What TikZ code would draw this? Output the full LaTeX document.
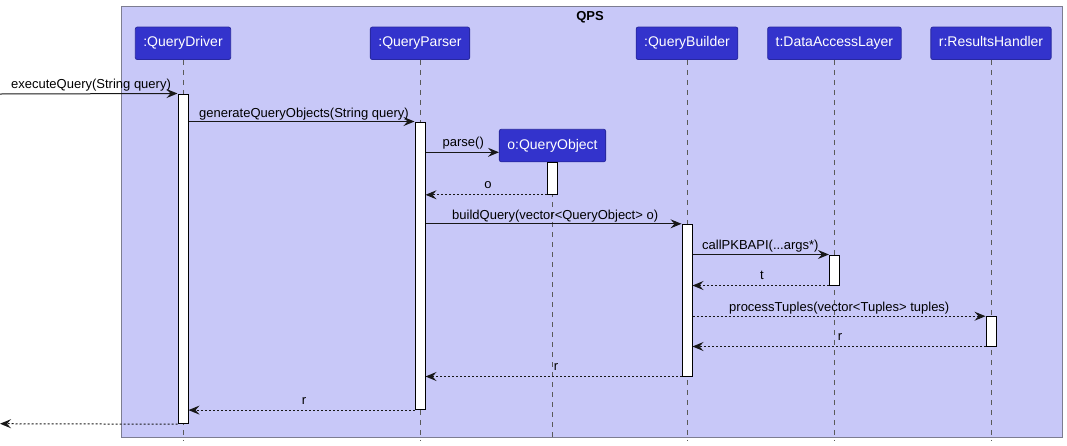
\documentclass[tikz,border=0pt]{standalone}
\usepackage{fontspec}
\setmainfont{Liberation Sans}
\usetikzlibrary{arrows.meta}
\definecolor{framebg}{RGB}{200,200,248}
\definecolor{frameline}{RGB}{125,125,145}
\definecolor{partbg}{RGB}{51,51,204}
\definecolor{partline}{RGB}{40,40,160}
\definecolor{lifeline}{RGB}{90,90,90}
\definecolor{msgline}{RGB}{24,24,24}
\tikzset{
  part/.style={draw=partline, fill=partbg, rounded corners=2pt, text=white,
    font=\fontsize{14}{16}\selectfont, inner xsep=8pt, inner ysep=0pt,
    minimum height=32.5pt, text height=10pt, text depth=3pt, line width=0.8pt},
  act/.style={draw=black, fill=white, line width=1pt, minimum width=10pt, inner sep=0pt},
  life/.style={draw=lifeline, line width=0.8pt, dash pattern=on 5pt off 5pt},
  msg/.style={draw=msgline, line width=1pt, -{Stealth[length=11pt,width=9pt,inset=4pt]}},
  ret/.style={msg, dash pattern=on 2pt off 2pt},
  lbl/.style={font=\fontsize{13}{15}\selectfont, inner sep=0pt, text=black},
}
\begin{document}
\begin{tikzpicture}[x=1pt,y=-1pt]
\useasboundingbox (0,0) rectangle (1067,445);
% frame
\node[draw=frameline, fill=framebg, line width=1pt, minimum width=940.5pt, minimum height=430.5pt, inner sep=0pt, anchor=north west] (frame) at (121,6) {};
\node[lbl, font=\fontsize{13}{15}\selectfont\bfseries, anchor=base] (qps) at (590,20) {QPS};
% participants
\node[part] (qd) at (183,43.3) {:QueryDriver};
\node[part] (qp) at (420,43.3) {:QueryParser};
\node[part] (qb) at (687,43.3) {:QueryBuilder};
\node[part] (dal) at (834.4,43.3) {t:DataAccessLayer};
\node[part] (rh) at (991,43.3) {r:ResultsHandler};
\node[part] (qo) at (552.5,145.5) {o:QueryObject};
% lifeline ends
\coordinate (qdE) at (183,441);
\coordinate (qpE) at (420,441);
\coordinate (qbE) at (687,441);
\coordinate (dalE) at (834.4,441);
\coordinate (rhE) at (991,441);
\coordinate (qoE) at (552.5,441);
\draw[life] (qd.south) -- (qdE);
\draw[life] (qp.south) -- (qpE);
\draw[life] (qb.south) -- (qbE);
\draw[life] (dal.south) -- (dalE);
\draw[life] (rh.south) -- (rhE);
\draw[life] (qo.south) -- (qoE);
% activations
\node[act, minimum height=329.7pt] (aD) at (183,258.85) {};
\node[act, minimum height=287.6pt] (aP) at (420,265.8) {};
\node[act, minimum height=32pt] (aO) at (552.5,178.3) {};
\node[act, minimum height=151.7pt] (aB) at (687,300.15) {};
\node[act, minimum height=30pt] (aL) at (834.4,270) {};
\node[act, minimum height=29.3pt] (aR) at (991,331.35) {};
% messages
\coordinate (m1) at (0,94);
\draw[msg] (m1) -- (aD.north west);
\node[lbl, anchor=base west] (l1) at (11,88.5) {executeQuery(String query)};

\coordinate (m2) at (aD.east |- aP.north);
\draw[msg] (m2) -- (aP.north west);
\node[lbl, anchor=base west] (l2) at (199,117) {generateQueryObjects(String query)};

\coordinate (m3s) at (aP.east |- 0,152.3);
\coordinate (m3e) at (qo.west |- 0,152.3);
\draw[msg] (m3s) -- (m3e);
\node[lbl, anchor=base west] (l3) at (442.5,146.5) {parse()};

\coordinate (m4) at (aP.east |- aO.south);
\draw[ret] (aO.south west) -- (m4);
\node[lbl, anchor=base] (l4) at (488,188.5) {o};

\coordinate (m5) at (aP.east |- aB.north);
\draw[msg] (m5) -- (aB.north west);
\node[lbl, anchor=base west] (l5) at (452,219) {buildQuery(vector<QueryObject> o)};

\coordinate (m6) at (aB.east |- aL.north);
\draw[msg] (m6) -- (aL.north west);
\node[lbl, anchor=base west] (l6) at (702,249.5) {callPKBAPI(...args*)};

\coordinate (m7) at (aB.east |- aL.south);
\draw[ret] (aL.south west) -- (m7);
\node[lbl, anchor=base] (l7) at (762,279.5) {t};

\coordinate (m8) at (aB.east |- aR.north);
\draw[ret] (m8) -- (aR.north west);
\node[lbl, anchor=base west] (l8) at (729,311) {processTuples(vector<Tuples> tuples)};

\coordinate (m9) at (aB.east |- aR.south);
\draw[ret] (aR.south west) -- (m9);
\node[lbl, anchor=base] (l9) at (840,340.5) {r};

\coordinate (m10) at (aP.east |- aB.south);
\draw[ret] (aB.south west) -- (m10);
\node[lbl, anchor=base] (l10) at (556,370.5) {r};

\coordinate (m11) at (aD.east |- aP.south);
\draw[ret] (aP.south west) -- (m11);
\node[lbl, anchor=base] (l11) at (304,404) {r};

\coordinate (m12) at (0,423.7);
\draw[ret] (aD.south west) -- (m12);
\end{tikzpicture}
\end{document}
